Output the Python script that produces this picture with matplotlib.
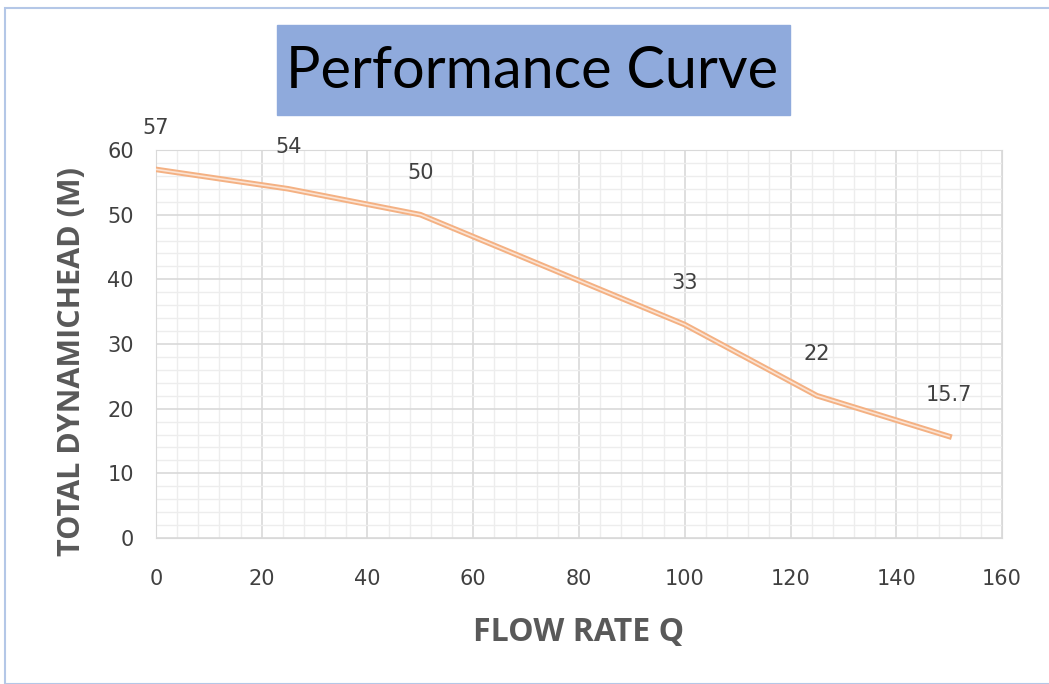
import matplotlib.pyplot as plt
from matplotlib.patches import Rectangle
from matplotlib.ticker import MultipleLocator

flow = [0, 25, 50, 100, 125, 150]
head = [57, 54, 50, 33, 22, 15.7]
labels = ["57", "54", "50", "33", "22", "15.7"]

plt.rcParams['font.family'] = ['DejaVu Sans']

fig = plt.figure(figsize=(10.49, 6.84), dpi=100)
ax = fig.add_axes([0.1487, 0.2135, 0.8065, 0.5672])

# line drawn as a "double" stroke like the original
ax.plot(flow, head, color='#F4B183', linewidth=4, solid_joinstyle='round', zorder=3)
ax.plot(flow, head, color='#FBE3D3', linewidth=1.2, solid_joinstyle='round', zorder=4)

for x, y, t in zip(flow, head, labels):
    ax.annotate(t, (x, y), xytext=(0, 30), textcoords='offset points',
                ha='center', va='center', fontsize=15, color='#404040')

ax.set_xlim(0, 160)
ax.set_ylim(0, 60)
ax.xaxis.set_major_locator(MultipleLocator(20))
ax.xaxis.set_minor_locator(MultipleLocator(4))
ax.yaxis.set_major_locator(MultipleLocator(10))
ax.yaxis.set_minor_locator(MultipleLocator(2))
ax.grid(which='major', color='#D9D9D9', linewidth=1.2)
ax.grid(which='minor', color='#EDEDED', linewidth=1.0)
ax.set_axisbelow(True)
ax.tick_params(which='both', length=0, labelsize=15, labelcolor='#404040')
ax.tick_params(axis='x', pad=22)
ax.tick_params(axis='y', pad=16)
for s in ax.spines.values():
    s.set_color('#D9D9D9')

ax.set_xlabel("FLOW RATE Q", fontsize=23, fontweight='bold', color='#595959',
              family=['Open Sans', 'DejaVu Sans'], labelpad=20)
ax.set_ylabel("TOTAL DYNAMICHEAD (M)", fontsize=22, fontweight='bold', color='#595959',
              family=['Open Sans', 'DejaVu Sans'])
ax.yaxis.set_label_coords(-0.099, 0.456)
ax.yaxis.label.set_va('center')

# title box
fig.patches.append(Rectangle((277 / 1049, 1 - 115 / 684), 513 / 1049, 90 / 684,
                             transform=fig.transFigure, color='#8FAADC', zorder=0))
fig.text(532 / 1049, 1 - 72 / 684, "Performance Curve", ha='center', va='center',
         fontsize=41.5, color='black', family=['Lato', 'DejaVu Sans'])

# outer frame
fig.patches.append(Rectangle((5 / 1049, 0), 1, 1 - 8 / 684, transform=fig.transFigure,
                             fill=False, edgecolor='#B4C7E7', linewidth=1.5))

fig.savefig("out.png", dpi=100)
